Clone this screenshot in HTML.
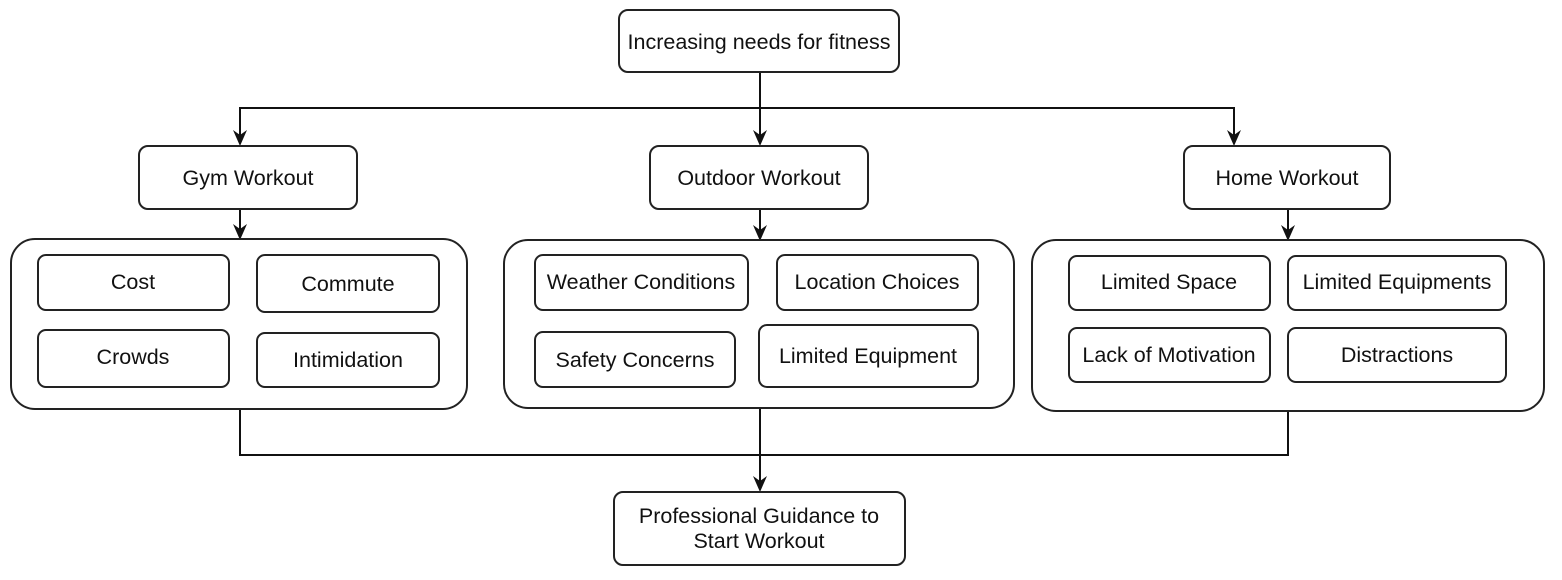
<!DOCTYPE html>
<html><head><style>
html,body{margin:0;padding:0;background:#fff;}
svg{display:block;}
text{font-family:"Liberation Sans",Arial,sans-serif;font-size:21.5px;fill:#111;text-anchor:middle;dominant-baseline:central;}
rect{fill:#fff;stroke:#222;stroke-width:2;}
line,polyline{stroke:#111;stroke-width:2;fill:none;}
polygon{fill:#111;stroke:none;}
</style></head><body>
<svg width="1562" height="580" viewBox="0 0 1562 580">
<!-- connectors -->
<line x1="760" y1="72" x2="760" y2="140"/>
<polyline points="240,140 240,108 1234,108 1234,140" />
<line x1="240" y1="209" x2="240" y2="234"/>
<line x1="760" y1="209" x2="760" y2="235"/>
<line x1="1288" y1="209" x2="1288" y2="235"/>
<polyline points="240,409 240,455 1288,455 1288,411"/>
<line x1="760" y1="408" x2="760" y2="486"/>
<polygon points="240,146 233,130 240,135 247,130"/>
<polygon points="760,146 753,130 760,135 767,130"/>
<polygon points="1234,146 1227,130 1234,135 1241,130"/>
<polygon points="240,240 233,224 240,229 247,224"/>
<polygon points="760,241 753,225 760,230 767,225"/>
<polygon points="1288,241 1281,225 1288,230 1295,225"/>
<polygon points="760,492 753,476 760,481 767,476"/>
<!-- top -->
<rect x="619" y="10" width="280" height="62" rx="9"/>
<text x="759" y="42">Increasing needs for fitness</text>
<rect x="139" y="146" width="218" height="63" rx="9"/><text x="248" y="178">Gym Workout</text>
<rect x="650" y="146" width="218" height="63" rx="9"/><text x="759" y="178">Outdoor Workout</text>
<rect x="1184" y="146" width="206" height="63" rx="9"/><text x="1287" y="178">Home Workout</text>
<!-- gym group -->
<rect x="11" y="239" width="456" height="170" rx="24"/>
<rect x="38" y="255" width="191" height="55" rx="8"/><text x="133" y="282">Cost</text>
<rect x="257" y="255" width="182" height="57" rx="8"/><text x="348" y="284">Commute</text>
<rect x="38" y="330" width="191" height="57" rx="8"/><text x="133" y="357">Crowds</text>
<rect x="257" y="333" width="182" height="54" rx="8"/><text x="348" y="360">Intimidation</text>
<!-- outdoor group -->
<rect x="504" y="240" width="510" height="168" rx="24"/>
<rect x="535" y="255" width="213" height="55" rx="8"/><text x="641" y="282">Weather Conditions</text>
<rect x="777" y="255" width="201" height="55" rx="8"/><text x="877" y="282">Location Choices</text>
<rect x="535" y="332" width="200" height="55" rx="8"/><text x="635" y="360">Safety Concerns</text>
<rect x="759" y="325" width="219" height="62" rx="8"/><text x="868" y="356">Limited Equipment</text>
<!-- home group -->
<rect x="1032" y="240" width="512" height="171" rx="24"/>
<rect x="1069" y="256" width="201" height="54" rx="8"/><text x="1169" y="282">Limited Space</text>
<rect x="1288" y="256" width="218" height="54" rx="8"/><text x="1397" y="282">Limited Equipments</text>
<rect x="1069" y="328" width="201" height="54" rx="8"/><text x="1169" y="355">Lack of Motivation</text>
<rect x="1288" y="328" width="218" height="54" rx="8"/><text x="1397" y="355">Distractions</text>
<!-- bottom -->
<rect x="614" y="492" width="291" height="73" rx="9"/>
<text x="759" y="516">Professional Guidance to</text>
<text x="759" y="541">Start Workout</text>
</svg>
</body></html>
